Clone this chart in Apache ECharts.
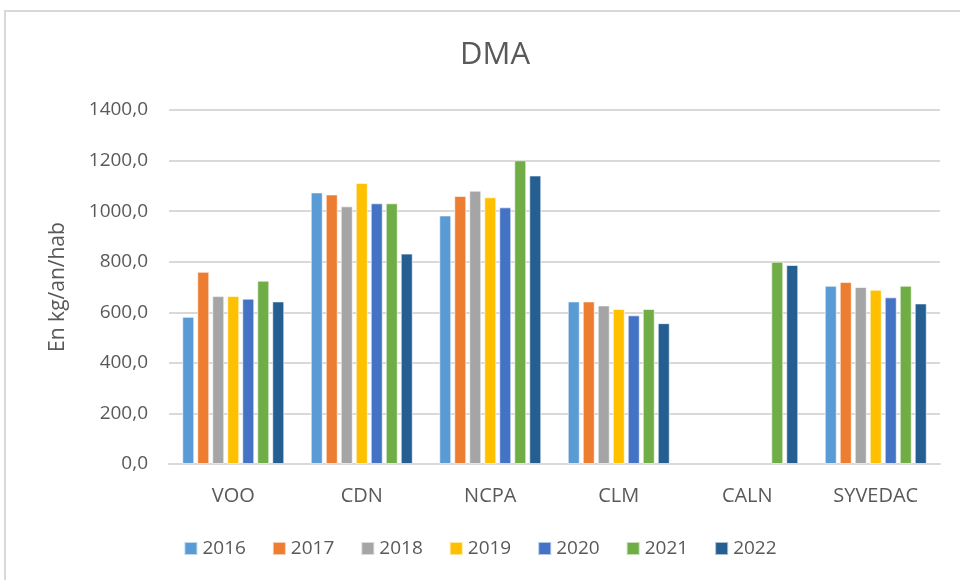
<!DOCTYPE html>
<html>
<head>
<meta charset="utf-8">
<title>DMA</title>
<script src="https://cdn.jsdelivr.net/npm/echarts@6/dist/echarts.min.js"></script>
<style>
  html, body { margin: 0; padding: 0; background: #fff; }
  #chart { width: 960px; height: 580px; }
  .frame {
    position: absolute; left: 4px; top: 10px;
    width: 1000px; height: 1000px;
    border: 2px solid #d9d9d9; box-sizing: border-box;
    pointer-events: none;
  }
</style>
</head>
<body>
<div id="chart"></div>
<div class="frame"></div>
<script>
const categories = ["VOO", "CDN", "NCPA", "CLM", "CALN", "SYVEDAC"];
const years = ["2016", "2017", "2018", "2019", "2020", "2021", "2022"];
const colors = ["#5b9bd5", "#ed7d31", "#a5a5a5", "#ffc000", "#4472c4", "#70ad47", "#255e91"];

// one array per year, in the order of categories
const v2016 = [582, 1074, 983, 643, null, 705];
const v2017 = [760, 1066, 1060, 643, null, 720];
const v2018 = [664, 1019, 1081, 627, null, 700];
const v2019 = [664, 1111, 1055, 613, null, 689];
const v2020 = [654, 1031, 1015, 588, null, 659];
const v2021 = [725, 1031, 1201, 613, 800, 705];
const v2022 = [643, 832, 1141, 557, 787, 635];
const values = [v2016, v2017, v2018, v2019, v2020, v2021, v2022];

const yTicks = [0, 200, 400, 600, 800, 1000, 1200, 1400];

const font = "'Open Sans', 'Noto Sans', sans-serif";
const chart = echarts.init(document.getElementById("chart"));

chart.setOption({
  animation: false,
  color: colors,
  textStyle: { fontFamily: font },
  title: {
    text: "DMA",
    left: 490,
    top: 35,
    textAlign: "center",
    textStyle: { fontFamily: font, fontSize: 31, fontWeight: "normal", color: "#595959" }
  },
  grid: { left: 169, right: 20, top: 110, bottom: 116 },
  legend: {
    bottom: 17,
    left: "center",
    itemWidth: 13,
    itemHeight: 13,
    itemGap: 26,
    icon: "rect",
    textStyle: { fontSize: 19, color: "#595959", fontFamily: font },
    data: years
  },
  xAxis: {
    type: "category",
    data: categories,
    axisTick: { show: false },
    axisLine: { lineStyle: { color: "#d9d9d9", width: 2 } },
    axisLabel: { fontSize: 20, color: "#595959", margin: 22 }
  },
  yAxis: {
    type: "value",
    min: yTicks[0],
    max: yTicks[yTicks.length - 1],
    interval: 200,
    name: "En kg/an/hab",
    nameLocation: "middle",
    nameRotate: 90,
    nameGap: 100,
    nameTextStyle: { fontSize: 21, color: "#595959" },
    axisLine: { show: false },
    axisTick: { show: false },
    axisLabel: {
      fontSize: 19,
      color: "#595959",
      margin: 21,
      formatter: v => v.toFixed(1).replace(".", ",")
    },
    splitLine: { lineStyle: { color: "#d9d9d9", width: 2 } }
  },
  series: years.map((y, i) => ({
    name: y,
    type: "bar",
    data: values[i],
    barWidth: 12,
    barGap: "25%",
    itemStyle: { color: colors[i], borderColor: "rgba(255,255,255,0.6)", borderWidth: 1 }
  }))
});
</script>
</body>
</html>
